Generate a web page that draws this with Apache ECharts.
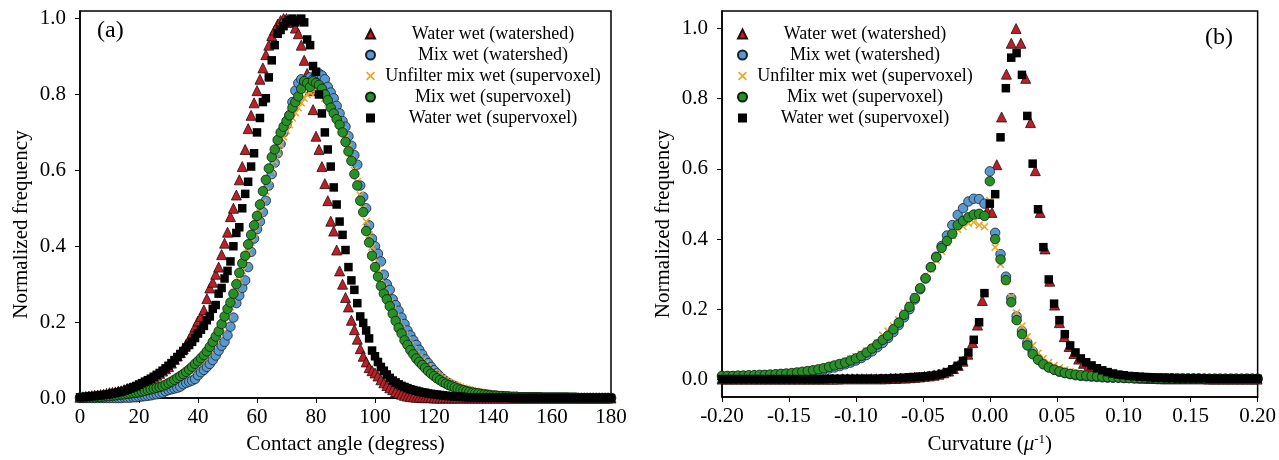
<!DOCTYPE html>
<html>
<head>
<meta charset="utf-8">
<script src="https://cdn.jsdelivr.net/npm/echarts@6/dist/echarts.min.js"></script>
<style>
  html, body { margin: 0; padding: 0; background: #fff; }
  #chart { width: 1279px; height: 460px; }
</style>
</head>
<body>
<div id="chart"></div>
<script>
// ---- names / ticks ----
const seriesNames = ['Water wet (watershed)', 'Mix wet (watershed)', 'Unfilter mix wet (supervoxel)', 'Mix wet (supervoxel)', 'Water wet (supervoxel)'];
const freqTicks = [0, 0.2, 0.4, 0.6, 0.8, 1.0];

// ---- (a) contact angle, one value per degree from 0 to 180 ----
const angleStart = 0, angleStep = 1;
const angleWaterWatershed = [
  0.002,0.003,0.004,0.005,0.006,0.007,0.008,0.009,0.010,0.012,
  0.014,0.015,0.016,0.018,0.019,0.022,0.025,0.027,0.030,0.034,
  0.037,0.040,0.044,0.047,0.051,0.055,0.060,0.065,0.071,0.077,
  0.083,0.092,0.102,0.111,0.120,0.130,0.142,0.155,0.170,0.187,
  0.203,0.215,0.232,0.262,0.290,0.305,0.326,0.345,0.378,0.408,
  0.437,0.478,0.500,0.535,0.575,0.610,0.655,0.710,0.745,0.778,
  0.810,0.840,0.870,0.905,0.930,0.955,0.970,0.985,0.995,1.000,
  1.000,0.995,0.990,0.975,0.960,0.930,0.890,0.855,0.810,0.760,
  0.690,0.655,0.610,0.565,0.520,0.466,0.440,0.390,0.335,0.300,
  0.265,0.240,0.205,0.180,0.155,0.130,0.110,0.095,0.080,0.072,
  0.066,0.058,0.048,0.040,0.033,0.027,0.022,0.017,0.013,0.010,
  0.007,0.005,0.004,0.003,0.002,0.002,0.001,0.001,0.001,0.001,
  0,0,0,0,0,0,0,0,0,0, 0,0,0,0,0,0,0,0,0,0, 0,0,0,0,0,0,0,0,0,0,
  0,0,0,0,0,0,0,0,0,0, 0,0,0,0,0,0,0,0,0,0, 0,0,0,0,0,0,0,0,0,0, 0
];
const angleMixWatershed = [
  0,0,0,0,0,0,0,0,0,0,
  0,0,0,0,0,0.001,0.001,0.001,0.002,0.002,
  0.003,0.004,0.005,0.006,0.007,0.009,0.010,0.012,0.014,0.018,
  0.021,0.023,0.025,0.027,0.030,0.036,0.040,0.043,0.046,0.050,
  0.060,0.068,0.074,0.082,0.090,0.100,0.112,0.125,0.138,0.148,
  0.165,0.188,0.212,0.250,0.270,0.290,0.310,0.345,0.385,0.420,
  0.445,0.465,0.490,0.520,0.560,0.590,0.620,0.645,0.670,0.700,
  0.720,0.745,0.780,0.810,0.830,0.840,0.835,0.840,0.845,0.840,
  0.850,0.855,0.850,0.840,0.820,0.805,0.790,0.770,0.750,0.730,
  0.715,0.690,0.665,0.640,0.615,0.560,0.530,0.500,0.455,0.420,
  0.400,0.380,0.360,0.325,0.300,0.285,0.260,0.245,0.230,0.212,
  0.195,0.178,0.165,0.152,0.140,0.127,0.115,0.102,0.092,0.082,
  0.073,0.065,0.057,0.050,0.044,0.039,0.035,0.031,0.027,0.024,
  0.021,0.019,0.017,0.015,0.013,0.012,0.011,0.010,0.009,0.008,
  0.007,0.006,0.005,0.005,0.004,0.004,0.003,0.003,0.003,0.002,
  0.002,0.002,0.002,0.002,0.002,0.002,0.001,0.001,0.001,0.001,
  0.001,0.001,0.001,0.001,0.001,0.001,0,0,0,0,
  0,0,0,0,0,0,0,0,0,0, 0
];
const angleUnfilterMix = [
  0.002,0.002,0.003,0.003,0.004,0.004,0.005,0.005,0.006,0.007,
  0.008,0.009,0.010,0.011,0.012,0.013,0.014,0.015,0.016,0.017,
  0.018,0.020,0.021,0.023,0.025,0.027,0.029,0.031,0.034,0.037,
  0.040,0.044,0.048,0.052,0.057,0.062,0.067,0.073,0.080,0.087,
  0.094,0.101,0.109,0.118,0.128,0.140,0.153,0.167,0.183,0.200,
  0.220,0.240,0.262,0.285,0.310,0.335,0.360,0.385,0.410,0.435,
  0.460,0.488,0.515,0.545,0.575,0.600,0.625,0.648,0.668,0.688,
  0.705,0.720,0.738,0.752,0.765,0.778,0.790,0.800,0.805,0.810,
  0.808,0.805,0.800,0.790,0.778,0.765,0.752,0.738,0.722,0.705,
  0.685,0.660,0.630,0.600,0.570,0.535,0.500,0.465,0.430,0.398,
  0.368,0.340,0.315,0.292,0.272,0.252,0.233,0.214,0.197,0.181,
  0.166,0.152,0.139,0.127,0.116,0.106,0.097,0.089,0.081,0.074,
  0.067,0.061,0.056,0.051,0.046,0.042,0.038,0.035,0.032,0.029,
  0.026,0.024,0.022,0.020,0.018,0.016,0.015,0.013,0.012,0.011,
  0.010,0.009,0.008,0.007,0.006,0.006,0.005,0.005,0.004,0.004,
  0.004,0.003,0.003,0.003,0.003,0.002,0.002,0.002,0.002,0.002,
  0.002,0.002,0.001,0.001,0.001,0.001,0.001,0.001,0.001,0.001,
  0.001,0.001,0.001,0.001,0.001,0,0,0,0,0, 0
];
const angleMixSupervoxel = [
  0.001,0.001,0.001,0.002,0.002,0.002,0.003,0.003,0.004,0.005,
  0.005,0.006,0.007,0.008,0.009,0.010,0.011,0.012,0.013,0.014,
  0.015,0.017,0.019,0.021,0.023,0.025,0.027,0.029,0.031,0.035,
  0.039,0.043,0.048,0.053,0.058,0.063,0.069,0.075,0.082,0.090,
  0.097,0.105,0.113,0.123,0.135,0.148,0.162,0.176,0.195,0.215,
  0.235,0.252,0.275,0.300,0.330,0.355,0.375,0.405,0.430,0.455,
  0.480,0.510,0.545,0.575,0.605,0.635,0.655,0.680,0.700,0.715,
  0.730,0.745,0.765,0.780,0.795,0.815,0.835,0.830,0.820,0.835,
  0.830,0.825,0.815,0.800,0.785,0.765,0.750,0.735,0.720,0.700,
  0.675,0.650,0.625,0.590,0.560,0.520,0.490,0.440,0.410,0.375,
  0.345,0.320,0.295,0.275,0.260,0.242,0.222,0.203,0.185,0.170,
  0.152,0.140,0.126,0.115,0.104,0.095,0.087,0.079,0.071,0.064,
  0.058,0.052,0.047,0.042,0.038,0.034,0.031,0.028,0.025,0.022,
  0.020,0.018,0.016,0.014,0.013,0.012,0.010,0.009,0.008,0.007,
  0.006,0.006,0.005,0.005,0.004,0.004,0.003,0.003,0.003,0.002,
  0.002,0.002,0.002,0.002,0.002,0.002,0.002,0.001,0.001,0.001,
  0.001,0.001,0.001,0.001,0.001,0.001,0.001,0.001,0.001,0,
  0,0,0,0,0,0,0,0,0,0, 0
];
const angleWaterSupervoxel = [
  0.002,0.002,0.003,0.004,0.005,0.005,0.006,0.007,0.008,0.009,
  0.010,0.012,0.013,0.015,0.017,0.019,0.022,0.025,0.028,0.031,
  0.035,0.039,0.043,0.047,0.051,0.056,0.061,0.066,0.072,0.078,
  0.085,0.092,0.100,0.108,0.116,0.124,0.133,0.140,0.148,0.158,
  0.170,0.180,0.190,0.205,0.215,0.235,0.245,0.275,0.290,0.315,
  0.335,0.360,0.400,0.435,0.450,0.500,0.538,0.570,0.610,0.645,
  0.700,0.738,0.780,0.790,0.845,0.890,0.930,0.960,0.970,0.980,
  0.990,0.995,1.000,0.990,0.995,1.000,0.990,0.945,0.930,0.875,
  0.860,0.800,0.750,0.700,0.655,0.610,0.555,0.510,0.465,0.430,
  0.390,0.345,0.310,0.285,0.250,0.215,0.198,0.178,0.157,0.125,
  0.110,0.095,0.082,0.072,0.062,0.053,0.046,0.041,0.036,0.032,
  0.029,0.026,0.023,0.021,0.019,0.017,0.015,0.014,0.012,0.011,
  0.010,0.009,0.008,0.007,0.006,0.005,0.005,0.004,0.004,0.003,
  0.003,0.002,0.002,0.002,0.002,0.002,0.001,0.001,0.001,0.001,
  0.001,0.001,0.001,0.001,0.001,0.001,0,0,0,0,
  0,0,0,0,0,0,0,0,0,0, 0,0,0,0,0,0,0,0,0,0,
  0,0,0,0,0,0,0,0,0,0, 0
];

// ---- (b) curvature, bins from -0.2 ----
const curvStart = -0.2, curvStep = 0.004, curvStepRed = 0.0036;
const curvWaterWatershed = [ // step 0.0036
  0.001,0.001,0.001,0.001,0.001,0.001,0.001,0.001,0.001,0.001,
  0.001,0.001,0.001,0.001,0.001,0.001,0.001,0.001,0.001,0.001,
  0.001,0.001,0.001,0.001,0.001,0.002,0.002,0.002,0.002,0.002,
  0.002,0.002,0.002,0.002,0.002,0.003,0.003,0.004,0.004,0.005,
  0.006,0.007,0.009,0.010,0.012,0.015,0.019,0.024,0.031,0.040,
  0.052,0.072,0.105,0.155,0.225,0.480,0.476,0.612,0.748,0.870,
  0.958,1.000,0.958,0.858,0.732,0.595,0.476,0.372,0.280,0.212,
  0.162,0.122,0.094,0.074,0.058,0.046,0.037,0.030,0.024,0.019,
  0.015,0.012,0.010,0.008,0.007,0.006,0.005,0.004,0.004,0.003,
  0.003,0.002,0.002,0.002,0.002,0.002,0.002,0.002,0.002,0.002,
  0.002,0.001,0.001,0.001,0.001,0.001,0.001,0.001,0.001,0.001,
  0.001,0.001
];
const curvMixWatershed = [
  0.009,0.009,0.009,0.009,0.010,0.010,0.011,0.011,0.012,0.012,
  0.013,0.014,0.015,0.016,0.017,0.019,0.021,0.023,0.025,0.028,
  0.031,0.034,0.038,0.043,0.048,0.054,0.061,0.070,0.080,0.092,
  0.104,0.118,0.135,0.155,0.177,0.200,0.228,0.257,0.288,0.320,
  0.350,0.380,0.410,0.440,0.469,0.488,0.507,0.515,0.514,0.501,
  0.593,0.418,0.357,0.293,0.232,0.180,0.138,0.105,0.080,0.060,
  0.045,0.035,0.028,0.022,0.018,0.015,0.012,0.010,0.009,0.008,
  0.007,0.006,0.005,0.005,0.005,0.004,0.004,0.003,0.003,0.003,
  0.003,0.003,0.003,0.003,0.003,0.002,0.002,0.002,0.002,0.002,
  0.002,0.002,0.002,0.002,0.002,0.002,0.002,0.002,0.002,0.002,
  0.002
];
const curvUnfilterMix = [
  0.009,0.010,0.010,0.011,0.011,0.012,0.012,0.013,0.014,0.015,
  0.016,0.017,0.018,0.020,0.022,0.024,0.026,0.028,0.031,0.034,
  0.038,0.042,0.047,0.052,0.058,0.065,0.072,0.081,0.090,0.104,
  0.126,0.138,0.152,0.170,0.190,0.212,0.236,0.262,0.290,0.315,
  0.340,0.365,0.390,0.410,0.428,0.436,0.445,0.448,0.440,0.435,
  0.510,0.377,0.328,0.280,0.235,0.190,0.152,0.122,0.097,0.075,
  0.060,0.048,0.040,0.033,0.027,0.022,0.018,0.015,0.013,0.011,
  0.010,0.009,0.008,0.007,0.006,0.006,0.005,0.005,0.005,0.005,
  0.005,0.004,0.004,0.004,0.004,0.004,0.004,0.004,0.004,0.004,
  0.003,0.003,0.003,0.003,0.003,0.003,0.003,0.003,0.003,0.003,
  0.003
];
const curvMixSupervoxel = [
  0.010,0.010,0.010,0.011,0.011,0.012,0.012,0.013,0.013,0.014,
  0.015,0.016,0.017,0.018,0.020,0.022,0.024,0.026,0.029,0.032,
  0.036,0.040,0.044,0.048,0.054,0.060,0.067,0.077,0.088,0.100,
  0.113,0.125,0.143,0.162,0.184,0.207,0.232,0.260,0.288,0.320,
  0.348,0.375,0.395,0.415,0.440,0.452,0.462,0.470,0.472,0.466,
  0.565,0.400,0.342,0.283,0.220,0.169,0.129,0.097,0.072,0.056,
  0.043,0.034,0.028,0.023,0.019,0.016,0.014,0.012,0.011,0.010,
  0.009,0.008,0.007,0.006,0.006,0.005,0.004,0.004,0.004,0.004,
  0.004,0.003,0.003,0.003,0.003,0.003,0.003,0.003,0.003,0.003,
  0.002,0.002,0.002,0.002,0.002,0.002,0.002,0.002,0.002,0.002,
  0.002
];
const curvWaterSupervoxel = [
  0.001,0.001,0.001,0.001,0.001,0.001,0.001,0.001,0.001,0.001,
  0.001,0.001,0.001,0.001,0.001,0.001,0.001,0.001,0.001,0.001,
  0.002,0.002,0.002,0.002,0.002,0.002,0.002,0.002,0.002,0.002,
  0.003,0.003,0.004,0.004,0.005,0.006,0.007,0.008,0.009,0.011,
  0.013,0.016,0.021,0.029,0.039,0.053,0.077,0.113,0.163,0.246,
  0.501,0.528,0.690,0.830,0.917,0.930,0.868,0.751,0.615,0.485,
  0.377,0.285,0.216,0.169,0.129,0.097,0.077,0.060,0.049,0.040,
  0.032,0.026,0.021,0.017,0.014,0.012,0.010,0.009,0.008,0.007,
  0.006,0.005,0.005,0.004,0.004,0.003,0.003,0.003,0.003,0.003,
  0.003,0.002,0.002,0.002,0.002,0.002,0.002,0.002,0.002,0.002,
  0.002
];

// ---- helpers ----
function withX(values, start, step, digits) {
  return values.map((v, i) => [+(start + i * step).toFixed(digits), v]);
}

const FONT = '"Liberation Serif", "Times New Roman", serif';
const crossPath = 'path://M0,1.4L1.4,0L5,3.6L8.6,0L10,1.4L6.4,5L10,8.6L8.6,10L5,6.4L1.4,10L0,8.6L3.6,5Z';

const styles = [
  { symbol: 'triangle', symbolSize: 10, itemStyle: { color: '#b8202a', borderColor: '#2a0d0d', borderWidth: 0.8, opacity: 1 } },
  { symbol: 'circle', symbolSize: 9.5, itemStyle: { color: '#5a98d0', borderColor: '#18222e', borderWidth: 0.8, opacity: 1 } },
  { symbol: crossPath, symbolSize: 8, itemStyle: { color: '#e8a82a', opacity: 1 } },
  { symbol: 'circle', symbolSize: 9.5, itemStyle: { color: '#279127', borderColor: '#0f200f', borderWidth: 0.8, opacity: 1 } },
  { symbol: 'rect', symbolSize: 8.5, itemStyle: { color: '#000000', opacity: 1 } }
];

const panelA = [angleWaterWatershed, angleMixWatershed, angleUnfilterMix, angleMixSupervoxel, angleWaterSupervoxel];
const panelB = [curvWaterWatershed, curvMixWatershed, curvUnfilterMix, curvMixSupervoxel, curvWaterSupervoxel];

const series = [];
panelA.forEach((vals, k) => {
  series.push(Object.assign({
    name: seriesNames[k], type: 'scatter', xAxisIndex: 0, yAxisIndex: 0,
    data: withX(vals, angleStart, angleStep, 0)
  }, styles[k]));
});
panelB.forEach((vals, k) => {
  const step = k === 0 ? curvStepRed : curvStep;
  series.push(Object.assign({
    name: seriesNames[k], type: 'scatter', xAxisIndex: 1, yAxisIndex: 1,
    data: withX(vals, curvStart, step, 4)
  }, styles[k]));
});

const axisLine = { show: true, onZero: false, lineStyle: { color: '#000', width: 1.5 } };
const labelStyle = { color: '#000', fontSize: 21, fontFamily: FONT };
const yNameStyle = { color: '#000', fontSize: 21, fontFamily: FONT, padding: [0, 40, 0, 0] };

function legendAt(left) {
  return {
    orient: 'vertical', left: left, top: 20, itemGap: 3,
    itemWidth: 9, itemHeight: 9, data: seriesNames,
    formatter: name => '{c|' + name + '}',
    textStyle: { rich: { c: { width: 226, align: 'center', fontSize: 18, lineHeight: 21, fontFamily: FONT, color: '#000' } } }
  };
}

const chart = echarts.init(document.getElementById('chart'), null, { renderer: 'canvas' });
chart.setOption({
  animation: false,
  backgroundColor: '#fff',
  grid: [
    { left: 80, right: 668, top: 11, bottom: 58, show: true, borderColor: '#000', borderWidth: 1.5 },
    { left: 722, right: 21, top: 11, bottom: 58, show: true, borderColor: '#000', borderWidth: 1.5 }
  ],
  legend: [legendAt(360), legendAt(732)],
  graphic: [
    { type: 'text', left: 97, top: 19, style: { text: '(a)', font: '24px ' + FONT, fill: '#000' } },
    { type: 'text', left: 1205, top: 26, style: { text: '(b)', font: '24px ' + FONT, fill: '#000' } }
  ],
  xAxis: [
    {
      type: 'value', gridIndex: 0, min: 0, max: 180, interval: 20,
      axisLine: axisLine, splitLine: { show: false },
      axisTick: { show: true, inside: false, length: 5, lineStyle: { color: '#000' } },
      axisLabel: Object.assign({ margin: 9 }, labelStyle),
      name: 'Contact angle (degress)', nameLocation: 'middle', nameGap: 36,
      nameTextStyle: { color: '#000', fontSize: 21, fontFamily: FONT }
    },
    {
      type: 'value', gridIndex: 1, min: -0.2, max: 0.2, interval: 0.05,
      axisLine: axisLine, splitLine: { show: false },
      axisTick: { show: true, inside: false, length: 5, lineStyle: { color: '#000' } },
      axisLabel: Object.assign({ margin: 9, formatter: v => v.toFixed(2) }, labelStyle),
      name: '{t|Curvature (}{i|μ}{s|-1}{t|)}', nameLocation: 'middle', nameGap: 36,
      nameTextStyle: {
        rich: {
          t: { color: '#000', fontSize: 21, fontFamily: FONT, lineHeight: 23 },
          i: { color: '#000', fontSize: 21, fontFamily: FONT, fontStyle: 'italic', lineHeight: 23 },
          s: { color: '#000', fontSize: 13, fontFamily: FONT, verticalAlign: 'top', lineHeight: 23 }
        }
      }
    }
  ],
  yAxis: [
    {
      type: 'value', gridIndex: 0, min: 0, max: 1.02,
      axisLine: axisLine, splitLine: { show: false },
      axisTick: { show: true, inside: false, length: 5, customValues: freqTicks, lineStyle: { color: '#000' } },
      axisLabel: Object.assign({ margin: 14, customValues: freqTicks, formatter: v => v.toFixed(1) }, labelStyle),
      name: 'Normalized frequency', nameLocation: 'middle', nameGap: 48,
      nameTextStyle: yNameStyle
    },
    {
      type: 'value', gridIndex: 1, min: -0.05, max: 1.05,
      axisLine: axisLine, splitLine: { show: false },
      axisTick: { show: true, inside: false, length: 5, customValues: freqTicks, lineStyle: { color: '#000' } },
      axisLabel: Object.assign({ margin: 14, customValues: freqTicks, formatter: v => v.toFixed(1) }, labelStyle),
      name: 'Normalized frequency', nameLocation: 'middle', nameGap: 48,
      nameTextStyle: yNameStyle
    }
  ],
  series: series
});
</script>
</body>
</html>
